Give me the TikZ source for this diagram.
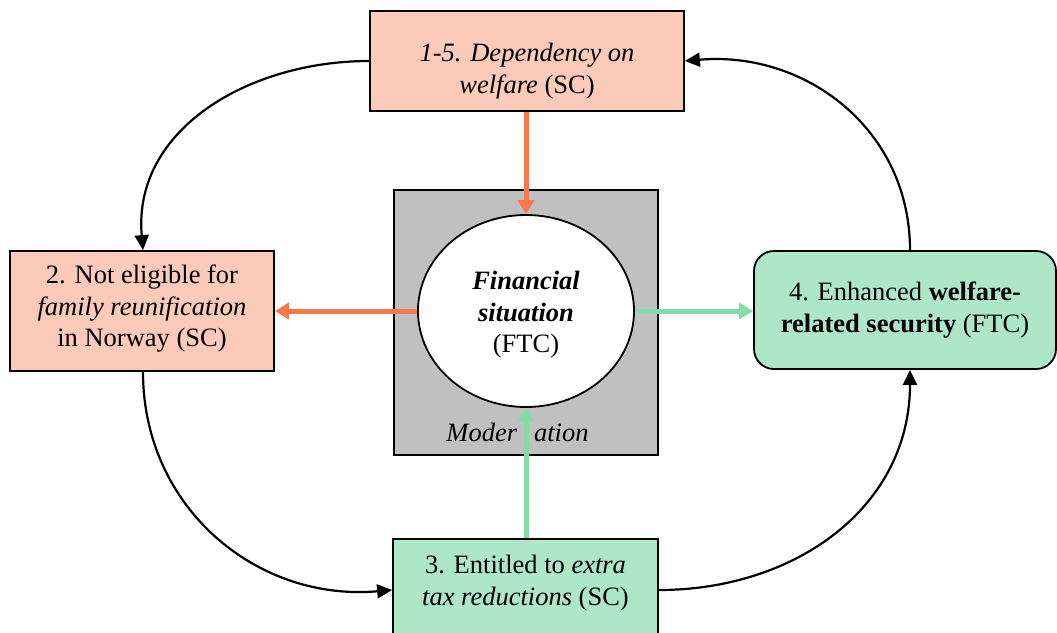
\documentclass[tikz,border=0pt]{standalone}
\usepackage{fontspec}
\setmainfont{Liberation Serif}
\usetikzlibrary{arrows.meta,shapes.geometric}
\definecolor{scfill}{HTML}{FBCAB9}
\definecolor{ftcfill}{HTML}{AEE6C8}
\definecolor{negline}{HTML}{F9784A}
\definecolor{posline}{HTML}{84DCA9}
\definecolor{modfill}{HTML}{C0C0C0}
\begin{document}
\begin{tikzpicture}[x=1pt,y=-1pt,
  every node/.style={font=\fontsize{26.5}{31.5}\selectfont},
  frame/.style={draw=black, line width=1.8pt, inner sep=0pt},
  label/.style={align=center, inner sep=0pt},
  loop/.style={draw=black, line width=2.2pt, -{Triangle[length=15pt,width=14pt]}},
  negarrow/.style={draw=negline, line width=5pt, -{Triangle[length=14pt,width=16pt]}},
  posarrow/.style={draw=posline, line width=5pt, -{Triangle[length=14pt,width=16pt]}}
]
\useasboundingbox[fill=white] (0,0) rectangle (1057,632);

% boxes
\node[frame, fill=scfill, minimum width=314pt, minimum height=100pt] (top) at (527,61) {};
\node[frame, fill=scfill, minimum width=264pt, minimum height=120pt] (left) at (142,311) {};
\node[frame, fill=ftcfill, rounded corners=20pt, minimum width=302pt, minimum height=118pt] (right) at (905,310) {};
\node[frame, fill=ftcfill, minimum width=265pt, minimum height=102pt] (bottom) at (525.5,590) {};

% moderation square and central ellipse
\node[frame, fill=modfill, minimum width=264pt, minimum height=265pt] (mod) at (526,322.5) {};
\node[frame, ellipse, fill=white, minimum width=216pt, minimum height=192pt] (fin) at (526,311) {};

% texts
\node[label] (toptext) at (527,71) {\textit{1-5. Dependency on}\\\textit{welfare} (SC)};
\node[label] (lefttext) at (142,309) {2. Not eligible for\\\textit{family reunification}\\in Norway (SC)};
\node[label] (righttext) at (905,310) {4. Enhanced \textbf{welfare-}\\\textbf{related security} (FTC)};
\node[label] (bottomtext) at (525.5,583) {3. Entitled to \textit{extra}\\\textit{tax reductions} (SC)};
\node[label] (fintext) at (526,315) {\textbf{\textit{Financial}}\\\textbf{\textit{situation}}\\(FTC)};
\node[inner sep=0pt, anchor=base] (modtext) at (517.5,441) {\textit{Moder\hspace{17pt}ation}};

% anchor points of the outer cycle
\coordinate (rn) at ([xshift=5pt]right.north);
\coordinate (rs) at ([xshift=5pt]right.south);
\coordinate (ln) at ([xshift=1pt]left.north);
\coordinate (ls) at ([xshift=1pt]left.south);

% outer cycle
\draw[loop] (top.west) to[out=180, in=95, looseness=1.05] (ln);
\draw[loop] (ls) to[out=-90, in=185, looseness=1.05] (bottom.west);
\draw[loop] (bottom.east) to[out=0, in=-90, looseness=1.05] (rs);
\draw[loop] (rn) to[out=90, in=5, looseness=1.05] (top.east);

% effects on and of the financial situation
\draw[negarrow] (fin.north |- top.south) -- (fin.north);
\draw[negarrow] (fin.west) -- (left.east |- fin.west);
\draw[posarrow] (fin.east) -- (right.west |- fin.east);
\draw[posarrow] (fin.south |- bottom.north) -- (fin.south);
\end{tikzpicture}
\end{document}
